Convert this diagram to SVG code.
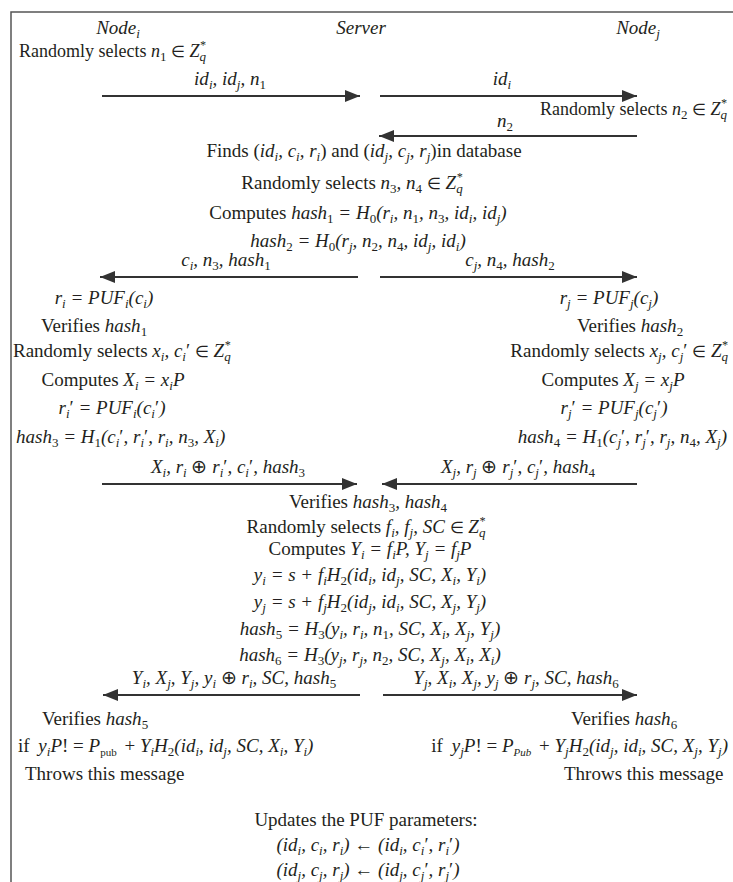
<svg xmlns="http://www.w3.org/2000/svg" width="733" height="882" viewBox="0 0 733 882">
<style>
.t{font-family:"Liberation Serif","Times New Roman",serif;font-size:19px;fill:#231f20}
.m{font-style:italic}
.u{font-style:normal}
.b{font-size:13px;baseline-shift:-4px}
.p{font-size:12px;baseline-shift:8px}
.e{font-size:16px;font-style:normal}
.a{stroke:#333;stroke-width:2;fill:none;marker-end:url(#ah)}
.fr{stroke:#555;stroke-width:1.5;fill:none}
</style>
<defs>
<marker id="ah" markerUnits="userSpaceOnUse" markerWidth="16" markerHeight="12" refX="15" refY="6" orient="auto">
<path d="M0,0 L15,6 L0,12 z" fill="#333"/>
</marker>
</defs>
<rect class="fr" x="11" y="12" width="740" height="890"/>

<g id="headers">
<text class="t m" x="118" y="34" text-anchor="middle">Node<tspan class="b">i</tspan></text>
<text class="t m" x="361" y="34" text-anchor="middle">Server</text>
<text class="t m" x="638" y="34" text-anchor="middle">Node<tspan class="b">j</tspan></text>
</g>

<g id="node-i-step1">
<text class="t" x="19" y="57" style="font-size:18px">Randomly selects <tspan class="m">n</tspan><tspan class="b">1</tspan> <tspan class="e">∈</tspan> <tspan class="m">Z<tspan class="p">*</tspan><tspan class="b" dx="-6">q</tspan></tspan></text>
</g>

<g id="node-j-step1">
<text class="t" x="540" y="115" style="font-size:18px">Randomly selects <tspan class="m">n</tspan><tspan class="b">2</tspan> <tspan class="e">∈</tspan> <tspan class="m">Z<tspan class="p">*</tspan><tspan class="b" dx="-6">q</tspan></tspan></text>
</g>

<g id="server-step1">
<text class="t" x="364" y="157" text-anchor="middle">Finds (<tspan class="m">id<tspan class="b">i</tspan>, c<tspan class="b">i</tspan>, r<tspan class="b">i</tspan></tspan>) and (<tspan class="m">id<tspan class="b">j</tspan>, c<tspan class="b">j</tspan>, r<tspan class="b">j</tspan></tspan>)in database</text>
<text class="t" x="352" y="189" text-anchor="middle">Randomly selects <tspan class="m">n<tspan class="b u">3</tspan>, n<tspan class="b u">4</tspan></tspan> <tspan class="e">∈</tspan> <tspan class="m">Z<tspan class="p">*</tspan><tspan class="b" dx="-6">q</tspan></tspan></text>
<text class="t" x="358" y="219" text-anchor="middle">Computes <tspan class="m">hash<tspan class="b u">1</tspan> = H<tspan class="b u">0</tspan>(r<tspan class="b">i</tspan>, n<tspan class="b u">1</tspan>, n<tspan class="b u">3</tspan>, id<tspan class="b">i</tspan>, id<tspan class="b">j</tspan>)</tspan></text>
<text class="t m" x="358" y="247" text-anchor="middle">hash<tspan class="b u">2</tspan> = H<tspan class="b u">0</tspan>(r<tspan class="b">j</tspan>, n<tspan class="b u">2</tspan>, n<tspan class="b u">4</tspan>, id<tspan class="b">j</tspan>, id<tspan class="b">i</tspan>)</text>
</g>

<g id="node-i-step2">
<text class="t m" x="104" y="304" text-anchor="middle">r<tspan class="b">i</tspan> = PUF<tspan class="b">i</tspan>(c<tspan class="b">i</tspan>)</text>
<text class="t" x="94" y="332" text-anchor="middle">Verifies <tspan class="m">hash<tspan class="b u">1</tspan></tspan></text>
<text class="t" x="13" y="357">Randomly selects <tspan class="m">x<tspan class="b">i</tspan>, c<tspan class="b">i</tspan><tspan class="u">′</tspan></tspan> <tspan class="e">∈</tspan> <tspan class="m">Z<tspan class="p">*</tspan><tspan class="b" dx="-6">q</tspan></tspan></text>
<text class="t" x="113" y="386" text-anchor="middle">Computes <tspan class="m">X<tspan class="b">i</tspan> = x<tspan class="b">i</tspan>P</tspan></text>
<text class="t m" x="112" y="414" text-anchor="middle">r<tspan class="b">i</tspan><tspan class="u">′</tspan> = PUF<tspan class="b">i</tspan>(c<tspan class="b">i</tspan><tspan class="u">′</tspan>)</text>
<text class="t m" x="16" y="443">hash<tspan class="b u">3</tspan> = H<tspan class="b u">1</tspan>(c<tspan class="b">i</tspan><tspan class="u">′</tspan>, r<tspan class="b">i</tspan><tspan class="u">′</tspan>, r<tspan class="b">i</tspan>, n<tspan class="b u">3</tspan>, X<tspan class="b">i</tspan>)</text>
</g>

<g id="node-j-step2">
<text class="t m" x="609" y="304" text-anchor="middle">r<tspan class="b">j</tspan> = PUF<tspan class="b">j</tspan>(c<tspan class="b">j</tspan>)</text>
<text class="t" x="630" y="332" text-anchor="middle">Verifies <tspan class="m">hash<tspan class="b u">2</tspan></tspan></text>
<text class="t" x="728" y="357" text-anchor="end">Randomly selects <tspan class="m">x<tspan class="b">j</tspan>, c<tspan class="b">j</tspan><tspan class="u">′</tspan></tspan> <tspan class="e">∈</tspan> <tspan class="m">Z<tspan class="p">*</tspan><tspan class="b" dx="-6">q</tspan></tspan></text>
<text class="t" x="613" y="386" text-anchor="middle">Computes <tspan class="m">X<tspan class="b">j</tspan> = x<tspan class="b">j</tspan>P</tspan></text>
<text class="t m" x="614" y="414" text-anchor="middle">r<tspan class="b">j</tspan><tspan class="u">′</tspan> = PUF<tspan class="b">j</tspan>(c<tspan class="b">j</tspan><tspan class="u">′</tspan>)</text>
<text class="t m" x="727" y="443" text-anchor="end">hash<tspan class="b u">4</tspan> = H<tspan class="b u">1</tspan>(c<tspan class="b">j</tspan><tspan class="u">′</tspan>, r<tspan class="b">j</tspan><tspan class="u">′</tspan>, r<tspan class="b">j</tspan>, n<tspan class="b u">4</tspan>, X<tspan class="b">j</tspan>)</text>
</g>

<g id="server-step2">
<text class="t" x="368" y="508" text-anchor="middle">Verifies <tspan class="m">hash<tspan class="b u">3</tspan>, hash<tspan class="b u">4</tspan></tspan></text>
<text class="t" x="366" y="533" text-anchor="middle">Randomly selects <tspan class="m">f<tspan class="b">i</tspan>, f<tspan class="b">j</tspan>, SC</tspan> <tspan class="e">∈</tspan> <tspan class="m">Z<tspan class="p">*</tspan><tspan class="b" dx="-6">q</tspan></tspan></text>
<text class="t" x="370" y="555" text-anchor="middle">Computes <tspan class="m">Y<tspan class="b">i</tspan> = f<tspan class="b">i</tspan>P, Y<tspan class="b">j</tspan> = f<tspan class="b">j</tspan>P</tspan></text>
<text class="t m" x="370" y="581" text-anchor="middle">y<tspan class="b">i</tspan> = s + f<tspan class="b">i</tspan>H<tspan class="b u">2</tspan>(id<tspan class="b">i</tspan>, id<tspan class="b">j</tspan>, SC, X<tspan class="b">i</tspan>, Y<tspan class="b">i</tspan>)</text>
<text class="t m" x="370" y="608" text-anchor="middle">y<tspan class="b">j</tspan> = s + f<tspan class="b">j</tspan>H<tspan class="b u">2</tspan>(id<tspan class="b">j</tspan>, id<tspan class="b">i</tspan>, SC, X<tspan class="b">j</tspan>, Y<tspan class="b">j</tspan>)</text>
<text class="t m" x="370" y="635" text-anchor="middle">hash<tspan class="b u">5</tspan> = H<tspan class="b u">3</tspan>(y<tspan class="b">i</tspan>, r<tspan class="b">i</tspan>, n<tspan class="b u">1</tspan>, SC, X<tspan class="b">i</tspan>, X<tspan class="b">j</tspan>, Y<tspan class="b">j</tspan>)</text>
<text class="t m" x="370" y="661" text-anchor="middle">hash<tspan class="b u">6</tspan> = H<tspan class="b u">3</tspan>(y<tspan class="b">j</tspan>, r<tspan class="b">j</tspan>, n<tspan class="b u">2</tspan>, SC, X<tspan class="b">j</tspan>, X<tspan class="b">i</tspan>, X<tspan class="b">i</tspan>)</text>
</g>

<g id="node-i-step3">
<text class="t" x="95" y="725" text-anchor="middle">Verifies <tspan class="m">hash<tspan class="b u">5</tspan></tspan></text>
<text class="t" x="18" y="752">if  <tspan class="m" dx="4">y<tspan class="b">i</tspan>P</tspan>! = <tspan class="m">P</tspan><tspan class="b" style="font-size:11px">pub</tspan>  <tspan dx="3">+</tspan> <tspan class="m">Y<tspan class="b">i</tspan>H<tspan class="b u">2</tspan>(id<tspan class="b">i</tspan>, id<tspan class="b">j</tspan>, SC, X<tspan class="b">i</tspan>, Y<tspan class="b">i</tspan>)</tspan></text>
<text class="t" x="25" y="780">Throws this message</text>
</g>

<g id="node-j-step3">
<text class="t" x="624" y="725" text-anchor="middle">Verifies <tspan class="m">hash<tspan class="b u">6</tspan></tspan></text>
<text class="t" x="728" y="752" text-anchor="end">if <tspan class="m" dx="4">y<tspan class="b">j</tspan>P</tspan>! = <tspan class="m">P<tspan class="b" style="font-size:11px">Pub</tspan></tspan> <tspan dx="3">+</tspan> <tspan class="m">Y<tspan class="b">j</tspan>H<tspan class="b u">2</tspan>(id<tspan class="b">j</tspan>, id<tspan class="b">i</tspan>, SC, X<tspan class="b">j</tspan>, Y<tspan class="b">j</tspan>)</tspan></text>
<text class="t" x="564" y="780">Throws this message</text>
</g>

<g id="server-step3">
<text class="t" x="366" y="826" text-anchor="middle">Updates the PUF parameters:</text>
<text class="t m" x="368" y="851" text-anchor="middle">(id<tspan class="b">i</tspan>, c<tspan class="b">i</tspan>, r<tspan class="b">i</tspan>) <tspan class="u">←</tspan> (id<tspan class="b">i</tspan>, c<tspan class="b">i</tspan><tspan class="u">′</tspan>, r<tspan class="b">i</tspan><tspan class="u">′</tspan>)</text>
<text class="t m" x="368" y="876" text-anchor="middle">(id<tspan class="b">j</tspan>, c<tspan class="b">j</tspan>, r<tspan class="b">j</tspan>) <tspan class="u">←</tspan> (id<tspan class="b">j</tspan>, c<tspan class="b">j</tspan><tspan class="u">′</tspan>, r<tspan class="b">j</tspan><tspan class="u">′</tspan>)</text>
</g>

<g id="connectors">
<path class="a" d="M102,96 H360"/>
<path class="a" d="M380,96 H637"/>
<path class="a" d="M637,136 H379"/>
<path class="a" d="M358,277 H100"/>
<path class="a" d="M380,277 H637"/>
<path class="a" d="M102,484 H357"/>
<path class="a" d="M637,484 H382"/>
<path class="a" d="M360,695 H103"/>
<path class="a" d="M383,695 H637"/>
</g>

<g id="labels">
<text class="t m" x="230" y="85" text-anchor="middle">id<tspan class="b">i</tspan>, id<tspan class="b">j</tspan>, n<tspan class="b u">1</tspan></text>
<text class="t m" x="502" y="85" text-anchor="middle">id<tspan class="b">i</tspan></text>
<text class="t m" x="505" y="127" text-anchor="middle">n<tspan class="b u">2</tspan></text>
<text class="t m" x="226" y="266" text-anchor="middle">c<tspan class="b">i</tspan>, n<tspan class="b u">3</tspan>, hash<tspan class="b u">1</tspan></text>
<text class="t m" x="510" y="266" text-anchor="middle">c<tspan class="b">j</tspan>, n<tspan class="b u">4</tspan>, hash<tspan class="b u">2</tspan></text>
<text class="t m" x="228" y="473" text-anchor="middle">X<tspan class="b">i</tspan>, r<tspan class="b">i</tspan> <tspan class="u">⊕</tspan> r<tspan class="b">i</tspan><tspan class="u">′</tspan>, c<tspan class="b">i</tspan><tspan class="u">′</tspan>, hash<tspan class="b u">3</tspan></text>
<text class="t m" x="518" y="473" text-anchor="middle">X<tspan class="b">j</tspan>, r<tspan class="b">j</tspan> <tspan class="u">⊕</tspan> r<tspan class="b">j</tspan><tspan class="u">′</tspan>, c<tspan class="b">j</tspan><tspan class="u">′</tspan>, hash<tspan class="b u">4</tspan></text>
<text class="t m" x="234" y="684" text-anchor="middle">Y<tspan class="b">i</tspan>, X<tspan class="b">j</tspan>, Y<tspan class="b">j</tspan>, y<tspan class="b">i</tspan> <tspan class="u">⊕</tspan> r<tspan class="b">i</tspan>, SC, hash<tspan class="b u">5</tspan></text>
<text class="t m" x="516" y="684" text-anchor="middle">Y<tspan class="b">j</tspan>, X<tspan class="b">i</tspan>, X<tspan class="b">j</tspan>, y<tspan class="b">j</tspan> <tspan class="u">⊕</tspan> r<tspan class="b">j</tspan>, SC, hash<tspan class="b u">6</tspan></text>
</g>
</svg>
